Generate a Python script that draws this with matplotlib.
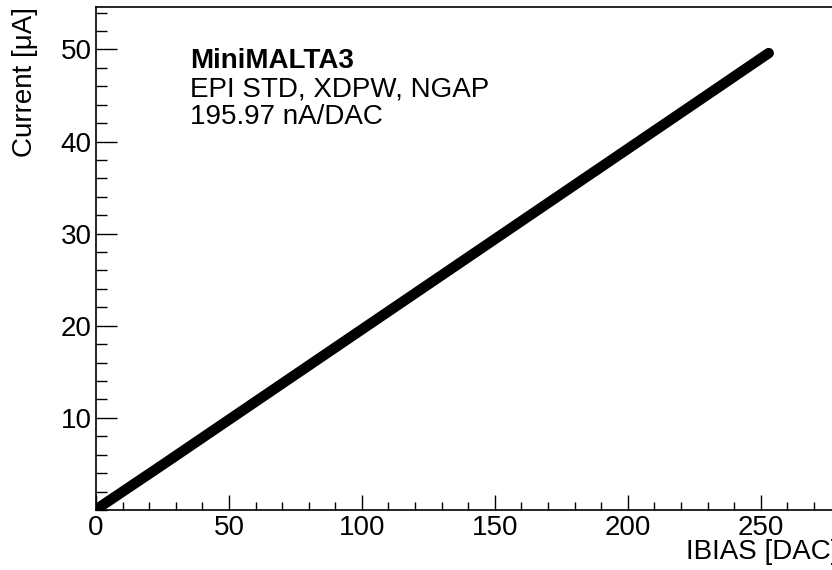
import matplotlib
matplotlib.use("Agg")
from matplotlib import pyplot as plt
from matplotlib.ticker import MultipleLocator

plt.rcParams['font.family'] = ['Liberation Sans', 'DejaVu Sans']

# values
ibias = [0, 25, 50, 75, 100, 125, 150, 175, 200, 225, 253]
current = [0.05, 4.9, 9.8, 14.7, 19.6, 24.5, 29.4, 34.3, 39.2, 44.1, 49.6]
x_ticks = [0, 50, 100, 150, 200, 250]
y_ticks = [10, 20, 30, 40, 50]
label_lines = ["MiniMALTA3", "EPI STD, XDPW, NGAP", "195.97 nA/DAC"]

W, H = 832, 570
fig = plt.figure(figsize=(W/100, H/100), dpi=100)
ax = fig.add_axes([96/W, 60/H, 740/W, 503/H])

ax.plot(ibias, current, color='black', linewidth=7.5, solid_capstyle='round')

ax.set_xlim(0, 278.3)
ax.set_ylim(0, 54.6)
ax.set_xticks(x_ticks)
ax.set_yticks(y_ticks)
ax.xaxis.set_minor_locator(MultipleLocator(10))
ax.yaxis.set_minor_locator(MultipleLocator(2))
ax.tick_params(which='both', direction='in', labelsize=20, width=1.0)
ax.tick_params(axis='x', which='major', length=11, pad=3.5)
ax.tick_params(axis='x', which='minor', length=5.5)
ax.tick_params(axis='y', which='major', length=15, pad=3)
ax.tick_params(axis='y', which='minor', length=8)
for s in ax.spines.values():
    s.set_linewidth(1.2)

fig.text(839/W, 1 - 552/H, "IBIAS [DAC]", ha='right', va='center', fontsize=20)
fig.text(25/W, 1 - 7/H, "Current [\u03bcA]", rotation=90, ha='center', va='top', fontsize=20)

# text block in the top left
fig.text(190/W, 1 - 61.5/H, label_lines[0], fontsize=20, fontweight='bold', va='center')
fig.text(190/W, 1 - 89.5/H, label_lines[1], fontsize=20, va='center')
fig.text(190/W, 1 - 117.5/H, label_lines[2], fontsize=20, va='center')

fig.savefig("out.png", dpi=100)
